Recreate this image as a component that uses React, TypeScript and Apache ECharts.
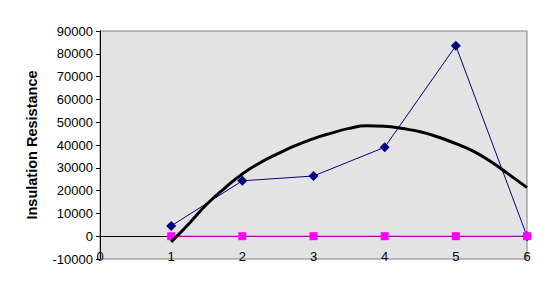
import React, { useEffect, useRef } from "react";
import * as echarts from "echarts";

const xValues = [1, 2, 3, 4, 5, 6];
const resistance = [4500, 24300, 26400, 39000, 83500, 0];
const baseline = [0, 0, 0, 0, 0, 0];
const trendX = [1, 1.25, 1.5, 1.75, 2, 2.25, 2.5, 2.75, 3, 3.25, 3.5, 3.75, 4, 4.25, 4.5, 4.75, 5, 5.25, 5.5, 5.75, 6];
const trendY = [-2500, 5500, 14000, 21000, 27300, 32200, 36200, 39800, 42800, 45200, 47300, 48400, 48200, 47200, 45800, 43500, 40600, 37200, 32500, 27000, 21300];
const yAxisTitle = "Insulation Resistance";

export default function App() {
  const ref = useRef<HTMLDivElement>(null);
  useEffect(() => {
    if (!ref.current) return;
    const chart = echarts.init(ref.current, null, { renderer: "svg" });
    const font = "Liberation Sans, Arial, sans-serif";
    chart.setOption({
      animation: false,
      grid: {
        left: 100,
        top: 31,
        right: 25,
        bottom: 32,
        show: true,
        backgroundColor: "#E3E3E3",
        borderColor: "#808080",
        borderWidth: 1,
      },
      xAxis: [
        {
          type: "value",
          min: 0,
          max: 6,
          interval: 1,
          axisLine: { show: true, onZero: true, lineStyle: { color: "#000", width: 1 } },
          axisTick: { show: true, inside: false, length: 3, lineStyle: { color: "#000" } },
          axisLabel: { show: false },
          splitLine: { show: false },
        },
        {
          type: "value",
          position: "bottom",
          min: 0,
          max: 6,
          interval: 1,
          axisLine: { show: false },
          axisTick: { show: false },
          axisLabel: { show: true, margin: -9, color: "#000", fontSize: 13, fontFamily: font },
          splitLine: { show: false },
        },
      ],
      yAxis: {
        type: "value",
        min: -10000,
        max: 90000,
        interval: 10000,
        name: yAxisTitle,
        nameLocation: "middle",
        nameGap: 61,
        nameTextStyle: { fontSize: 14.5, fontWeight: "bold", color: "#000", fontFamily: font },
        axisLine: { show: true, lineStyle: { color: "#000", width: 1 } },
        axisTick: { show: true, length: 4, lineStyle: { color: "#000" } },
        axisLabel: { color: "#000", fontSize: 13, margin: 7, fontFamily: font, formatter: (v: number) => String(v) },
        splitLine: { show: false },
      },
      series: [
        {
          type: "line",
          data: xValues.map((x, i) => [x, resistance[i]]),
          symbol: "diamond",
          symbolSize: 10,
          itemStyle: { color: "#000080" },
          lineStyle: { color: "#000080", width: 1 },
          z: 3,
        },
        {
          type: "line",
          data: xValues.map((x, i) => [x, baseline[i]]),
          symbol: "rect",
          symbolSize: 8,
          itemStyle: { color: "#FF00FF" },
          lineStyle: { color: "#FF00FF", width: 1 },
          z: 3,
        },
        {
          type: "line",
          data: trendX.map((x, i) => [x, trendY[i]]),
          showSymbol: false,
          symbol: "none",
          smooth: true,
          lineStyle: { color: "#000", width: 3 },
          z: 4,
        },
      ],
    });
    return () => chart.dispose();
  }, []);
  return <div ref={ref} style={{ width: 552, height: 291, position: "absolute", left: 0, top: 0 }} />;
}
